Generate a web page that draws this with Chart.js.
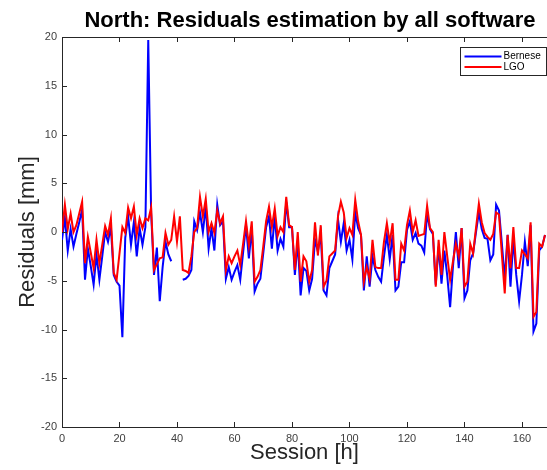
<!DOCTYPE html>
<html>
<head>
<meta charset="utf-8">
<script src="https://cdn.jsdelivr.net/npm/chart.js@4.4.0/dist/chart.umd.min.js"></script>
<style>
  html, body { margin: 0; padding: 0; background: #fff; overflow: hidden; }
</style>
</head>
<body>
<canvas id="resChart" width="547" height="470"></canvas>
<script>
// hourly sessions 0..168
const sessions = Array.from({ length: 169 }, (_, i) => i);

const bernese = [
  -0.8, 1.5, -1.9, 0.3, -1.5, -0.2, 1.0, 2.3, -4.9, -1.7,
  -3.5, -5.4, -2.3, -4.9, -2.5, 0, -1.0, 0.5, -4.4, -5.1,
  -5.5, -10.8, -0.6, 1.6, -1.3, 1.0, -2.5, 0.4, -1.3, 0.5,
  19.7, 2.0, -4.4, -1.6, -7.1, -3.6, -1.0, -2.3, -3.0, null,
  null, null, -4.9, -4.8, -4.5, -3.9, 1.1, 0.2, 2.0, 0,
  2.6, -1.7, 0.4, -1.9, 2.8, 0.7, 1.1, -4.8, -3.6, -4.9,
  -4.1, -3.4, -4.9, -2.1, 0.7, -2.7, 0.4, -6.1, -5.3, -4.8,
  -2.2, 0.5, 1.6, -1.7, 1.6, -1.9, -0.7, -1.5, 3.1, 0.5,
  0.5, -4.4, -1.0, -6.5, -3.7, -4.0, -6.0, -4.8, -0.8, -2.0,
  -0.3, -6.0, -6.5, -3.7, -3.0, -2.3, 1.3, -1.0, 0.9, -1.9,
  -0.8, -2.8, 2.0, 0.4, -0.3, -6.0, -2.5, -5.6, -2.5, -3.9,
  -4.6, -5.1, -2.5, -0.3, -2.8, -0.3, -6.0, -5.6, -3.1, -3.1,
  0.2, 1.1, -0.8, -0.1, -1.2, -1.4, -2.1, 1.9, 0.3, -0.2,
  -5.4, -1.5, -5.3, -1.9, -4.5, -7.7, -3.5, 0, -3.7, 0.4,
  -6.8, -6.0, -2.9, -2.2, 0, 2.0, 0.3, -0.6, -0.7, -2.9,
  -2.3, 2.8, 2.2, -1.2, -4.8, -0.3, -5.6, -0.7, -4.4, -7.1,
  -4.4, -1.0, -3.5, 0.7, -10.2, -9.4, -1.9, -1.5, -0.3
];

const lgo = [
  0, 2.8, 0.3, 1.9, 0, 0.7, 1.9, 3.1, -3.2, -0.5,
  -2.1, -3.7, -0.8, -3.2, -1.3, 0.6, -0.3, 1.4, -4.2, -4.9,
  -2.2, 0.5, -0.1, 2.5, 1.4, 2.6, -0.3, 1.4, 0.4, 1.4,
  1.2, 2.5, -3.9, -3.3, -2.7, -2.6, -0.1, -1.3, -0.8, 1.6,
  -1.0, 1.6, -3.9, -4.0, -4.2, -2.5, 0, 0.4, 3.6, 1.6,
  3.4, 0, 0.9, -0.1, 2.2, 0.9, 1.6, -3.9, -2.5, -3.2,
  -2.5, -1.9, -3.4, -1.2, 1.1, -1.4, 1.1, -5.1, -4.6, -3.9,
  -1.5, 1.1, 2.6, 0.5, 2.4, -0.4, 0.5, 0, 3.6, 0.7,
  0.5, -3.9, 0, -5.1, -2.5, -3.0, -5.1, -3.9, 1.0, -2.4,
  0.7, -5.6, -5.0, -2.5, -2.2, -1.9, 1.6, 3.1, 2.0, -0.6,
  0.4, -0.3, 3.3, 1.1, -0.3, -5.1, -3.6, -4.8, -0.8, -3.6,
  -3.7, -3.7, -1.0, 0.9, -1.1, 0.9, -4.9, -4.9, -1.2, -1.9,
  0.7, 2.2, 0, 1.2, -0.4, -0.3, -0.2, 2.7, 0.4, 0,
  -5.6, -0.8, -4.4, 0, -2.5, -4.9, -3.0, -1.2, -2.5, 0.4,
  -5.6, -5.1, -1.2, -2.2, 0.4, 2.9, 1.0, -0.1, -0.5, -0.8,
  -0.2, 2.0, 1.8, -2.3, -6.3, -0.3, -3.7, 0.5, -3.7, -3.7,
  -1.9, -2.3, -2.7, 1.0, -8.7, -8.2, -1.2, -1.5, -0.3
];

const xTicks = [0, 20, 40, 60, 80, 100, 120, 140, 160];
const yTicks = [-20, -15, -10, -5, 0, 5, 10, 15, 20];

const FONT = '"Liberation Sans", Arial, Helvetica, sans-serif';
const AXIS = '#262626';

const toPoints = vals => vals.map((v, i) => ({ x: sessions[i], y: v }));

// MATLAB style box: top line, inward ticks, title and legend
const matlabBox = {
  id: 'matlabBox',
  afterDatasetsDraw(chart) {
    const { ctx, chartArea: a, scales: { x, y } } = chart;
    ctx.save();
    ctx.strokeStyle = AXIS;
    ctx.lineWidth = 1;
    ctx.beginPath();
    ctx.moveTo(a.left, a.top + 0.5);
    ctx.lineTo(a.right, a.top + 0.5);
    xTicks.forEach(v => {
      const px = Math.round(x.getPixelForValue(v)) + 0.5;
      ctx.moveTo(px, a.bottom);
      ctx.lineTo(px, a.bottom - 5);
      ctx.moveTo(px, a.top);
      ctx.lineTo(px, a.top + 5);
    });
    yTicks.forEach(v => {
      const py = Math.round(y.getPixelForValue(v)) + 0.5;
      ctx.moveTo(a.left, py);
      ctx.lineTo(a.left + 5, py);
    });
    ctx.stroke();

    // title
    ctx.fillStyle = '#000';
    ctx.font = 'bold 22px ' + FONT;
    ctx.textAlign = 'center';
    ctx.textBaseline = 'alphabetic';
    ctx.fillText('North: Residuals estimation by all software', 310, 27);

    // legend
    const bx = 460.5, by = 47.5, bw = 86, bh = 28;
    ctx.fillStyle = '#fff';
    ctx.fillRect(bx, by, bw, bh);
    ctx.strokeStyle = '#262626';
    ctx.strokeRect(bx, by, bw, bh);
    ctx.font = '10px ' + FONT;
    ctx.textAlign = 'left';
    ctx.textBaseline = 'middle';
    chart.data.datasets.forEach((ds, i) => {
      const ly = by + 9 + i * 10.5;
      ctx.strokeStyle = ds.borderColor;
      ctx.lineWidth = 2;
      ctx.beginPath();
      ctx.moveTo(bx + 4, ly);
      ctx.lineTo(bx + 41, ly);
      ctx.stroke();
      ctx.fillStyle = '#000';
      ctx.fillText(ds.label, bx + 43, ly);
    });
    ctx.restore();
  }
};

new Chart(document.getElementById('resChart'), {
  type: 'line',
  data: {
    datasets: [
      {
        label: 'Bernese',
        data: toPoints(bernese),
        borderColor: '#0000ff',
        borderWidth: 2,
        pointRadius: 0,
        tension: 0,
        spanGaps: false,
        order: 2,
      },
      {
        label: 'LGO',
        data: toPoints(lgo),
        borderColor: '#ff0000',
        borderWidth: 2,
        pointRadius: 0,
        tension: 0,
        order: 1,
      },
    ],
  },
  options: {
    responsive: false,
    animation: false,
    layout: { padding: { top: 37, right: 0, bottom: 0, left: 0 } },
    plugins: {
      legend: { display: false },
      tooltip: { enabled: false },
    },
    scales: {
      x: {
        type: 'linear',
        min: 0,
        max: 168.7,
        afterBuildTicks: s => { s.ticks = xTicks.map(v => ({ value: v })); },
        afterFit: s => { s.height = 43; },
        grid: { display: false, drawTicks: false },
        border: { display: true, color: AXIS, width: 1 },
        ticks: { color: '#404040', font: { family: FONT, size: 11 }, padding: 5, maxRotation: 0 },
        title: { display: true, text: 'Session [h]', color: '#262626', font: { family: FONT, size: 22 }, padding: { top: 0, bottom: 4 } },
      },
      y: {
        min: -20,
        max: 20,
        afterBuildTicks: s => { s.ticks = yTicks.map(v => ({ value: v })); },
        afterFit: s => { s.width = 62; },
        grid: { display: false, drawTicks: false },
        border: { display: true, color: AXIS, width: 1 },
        ticks: { color: '#404040', font: { family: FONT, size: 11 }, padding: 5 },
        title: { display: true, text: 'Residuals [mm]', color: '#262626', font: { family: FONT, size: 22 }, padding: { top: 15, bottom: 0 } },
      },
    },
  },
  plugins: [matlabBox],
});
</script>
</body>
</html>
